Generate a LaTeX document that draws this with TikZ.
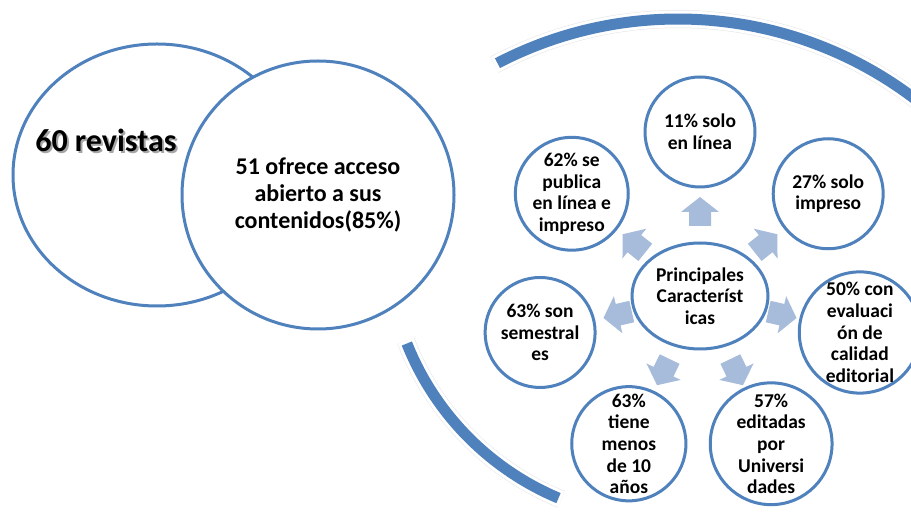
\documentclass[tikz,border=0pt]{standalone}
\usepackage{fontspec}
\setmainfont{Carlito}
\usetikzlibrary{shapes.geometric,positioning}

\definecolor{ringblue}{RGB}{79,129,189}
\definecolor{arrowblue}{RGB}{167,187,219}

\begin{document}
\begin{tikzpicture}[x=1pt,y=1pt,
bigcirc/.style={ellipse,draw=ringblue,line width=3pt,fill=white,inner sep=0pt,align=center},
item/.style={circle,draw=ringblue,line width=3pt,fill=white,minimum size=110pt,inner sep=0pt,align=center,font=\bfseries\fontsize{19.5}{21.7}\selectfont},
bandshadow/.style={black!25,opacity=.4,line width=18pt},
bandedge/.style={white,line width=17pt},
band/.style={ringblue,line width=11pt}]

\useasboundingbox (0,0) rectangle (911,514);
\clip (0,0) rectangle (911,514);
\fill[white] (0,0) rectangle (911,514);

\coordinate (topc) at (678,104);
\coordinate (lowc) at (667,274);
\coordinate (hubc) at (700,218);

\foreach \c/\r/\a/\b/\aa/\bb in {topc/391/117.5/48/118/47.5,lowc/280/201.7/247.2/201.1/247.8}{
\draw[bandshadow,shift={(1.5,-2.5)}] ([shift={(\aa:\r)}]\c) arc[start angle=\aa,end angle=\bb,radius=\r];
\draw[bandedge] ([shift={(\aa:\r)}]\c) arc[start angle=\aa,end angle=\bb,radius=\r];
\draw[band] ([shift={(\a:\r)}]\c) arc[start angle=\a,end angle=\b,radius=\r];
}

\node[bigcirc,minimum width=288pt,minimum height=262pt] (revistas) at (157,339) {};
\node[text=black!35,font=\bfseries\fontsize{32}{37}\selectfont] (revshadow) at (108,372) {60 revistas};
\node[font=\bfseries\fontsize{32}{37}\selectfont] (revtxt) at (106,374) {60 revistas};
\node[bigcirc,minimum width=272pt,minimum height=268pt,font=\bfseries\fontsize{24}{27}\selectfont] (acceso) at (318,319)
{51 ofrece acceso\\abierto a sus\\contenidos(85\%)};

\foreach \ang in {90,38.571,-12.857,-64.286,-115.714,-167.143,141.429}
\fill[arrowblue,shift={(hubc)},rotate=\ang-90] (-11,70) -- (-11,84) -- (-19,84) -- (0,99) -- (19,84) -- (11,84) -- (11,70) -- cycle;

\node[item,ellipse,minimum width=136pt,minimum height=106pt] (hub) at (hubc) {Principales\\Característ\\icas};

\foreach \ang/\nm/\txt in {
90/soloweb/{11\% solo\\en línea},
38.571/soloimp/{27\% solo\\impreso},
-12.857/evalua/{50\% con\\evaluaci\\ón de\\calidad\\editorial},
-64.286/univ/{57\%\\editadas\\por\\Universi\\dades},
-115.714/joven/{63\%\\tiene\\menos\\de 10\\años},
-167.143/semes/{63\% son\\semestral\\es},
141.429/ambos/{62\% se\\publica\\en línea e\\impreso}}
\node[item] (\nm) at ([shift={(\ang:164)}]hubc) {\txt};
\end{tikzpicture}
\end{document}
